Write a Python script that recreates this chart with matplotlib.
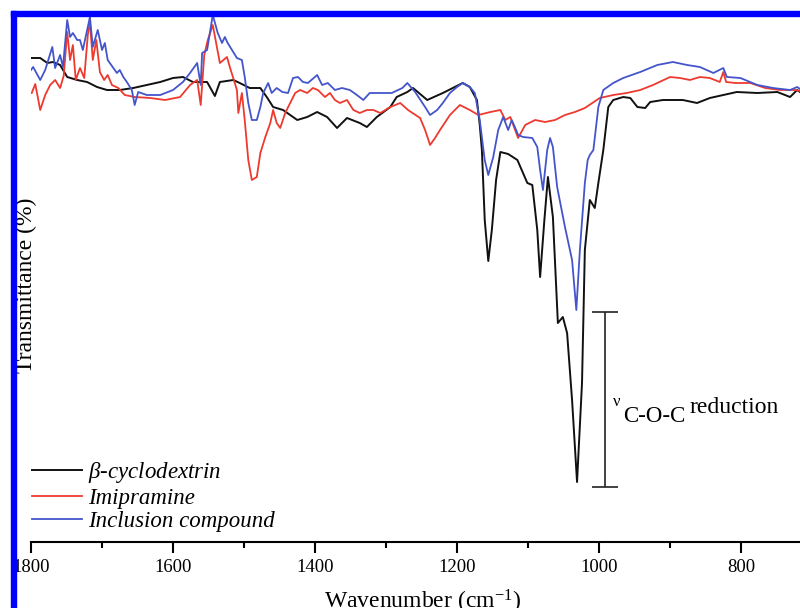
import matplotlib
matplotlib.use("Agg")
import matplotlib.pyplot as plt
from matplotlib.patches import Rectangle

# wavenumber (cm-1) and transmittance (arb. %)
cd_wn = [1800, 1787, 1777, 1769, 1759, 1749, 1735, 1721, 1707, 1693, 1675, 1656, 1637, 1618,
         1600, 1586, 1572, 1552, 1541, 1534, 1515, 1506, 1492, 1477, 1468, 1459, 1445, 1425,
         1411, 1397, 1383, 1369, 1355, 1337, 1327, 1313, 1294, 1285, 1270, 1262, 1242, 1220,
         1206, 1192, 1182, 1172, 1168, 1165, 1161, 1156, 1151, 1145, 1139, 1128, 1115, 1101,
         1094, 1087, 1083, 1077, 1072, 1065, 1058, 1051, 1045, 1038, 1031, 1024, 1020, 1013,
         1006, 1001, 994, 987, 980, 966, 956, 946, 935, 928, 910, 882, 862, 844, 825, 806,
         777, 749, 731, 721, 717]
cd_t = [96.8, 96.8, 95.8, 96.0, 95.4, 93.0, 92.4, 92.0, 91.0, 90.4, 90.4, 90.8, 91.4, 92.0,
        92.8, 93.0, 92.0, 92.0, 89.2, 92.0, 92.4, 91.8, 90.8, 90.8, 89.0, 87.0, 86.4, 84.4,
        85.0, 86.0, 85.0, 82.8, 84.8, 83.8, 83.0, 85.0, 87.0, 89.0, 90.0, 90.8, 88.4, 89.8,
        90.8, 91.8, 91.0, 88.4, 83.4, 78.4, 64.4, 56.2, 62.4, 72.4, 78.0, 77.6, 76.4, 71.8,
        71.4, 62.4, 53.0, 64.4, 73.0, 65.0, 43.8, 45.0, 41.8, 28.4, 12.0, 31.8, 58.4, 68.4,
        66.8, 71.8, 78.4, 87.0, 88.4, 89.0, 88.8, 87.0, 86.8, 88.0, 88.4, 88.4, 87.8, 88.8,
        89.4, 90.0, 89.8, 90.0, 89.0, 90.4, 90.0]

imi_wn = [1799, 1794, 1787, 1780, 1773, 1766, 1759, 1754, 1749, 1745, 1741, 1737, 1731, 1725,
          1720, 1717, 1713, 1708, 1703, 1697, 1692, 1686, 1677, 1668, 1654, 1632, 1611, 1590,
          1576, 1566, 1561, 1556, 1551, 1544, 1534, 1524, 1520, 1510, 1508, 1503, 1499, 1494,
          1489, 1482, 1477, 1470, 1463, 1459, 1454, 1449, 1442, 1435, 1428, 1421, 1411, 1403,
          1396, 1386, 1379, 1372, 1365, 1355, 1346, 1337, 1327, 1318, 1308, 1294, 1280, 1269,
          1252, 1245, 1238, 1231, 1224, 1210, 1196, 1182, 1170, 1153, 1139, 1132, 1125, 1114,
          1104, 1090, 1076, 1062, 1048, 1034, 1020, 999, 980, 961, 942, 924, 900, 886, 872,
          858, 844, 830, 825, 821, 808, 787, 766, 745, 724, 717]
imi_t = [89.8, 91.6, 86.4, 89.4, 91.4, 92.4, 90.8, 93.2, 102.0, 96.4, 99.4, 92.4, 94.8, 92.8,
         101.4, 104.0, 96.4, 100.4, 94.0, 92.4, 93.4, 91.4, 90.8, 89.4, 89.0, 88.8, 88.4, 89.0,
         91.4, 92.4, 87.4, 97.4, 100.4, 103.4, 95.8, 97.0, 95.0, 90.4, 85.8, 89.8, 84.4, 76.4,
         72.4, 73.0, 77.8, 81.0, 83.8, 86.4, 83.8, 82.8, 85.8, 87.8, 89.8, 90.4, 89.8, 90.8,
         90.4, 89.0, 89.8, 88.4, 87.8, 88.4, 86.4, 85.8, 86.4, 86.4, 85.8, 87.0, 87.8, 86.4,
         84.8, 82.4, 79.4, 80.8, 82.4, 85.4, 87.4, 86.4, 85.4, 86.0, 86.4, 84.4, 85.0, 80.8,
         83.4, 84.4, 84.0, 84.4, 85.4, 86.0, 86.8, 88.8, 89.4, 89.8, 90.4, 91.4, 93.0, 92.8, 92.4,
         93.0, 92.8, 92.0, 94.0, 92.0, 91.8, 91.8, 90.8, 90.4, 90.4, 90.2]

inc_wn = [1800, 1797, 1787, 1780, 1770, 1766, 1759, 1755, 1749, 1745, 1741, 1735, 1731, 1727,
          1717, 1713, 1706, 1700, 1696, 1692, 1685, 1679, 1675, 1670, 1665, 1658, 1654, 1649,
          1637, 1618, 1600, 1586, 1576, 1566, 1561, 1559, 1552, 1544, 1537, 1531, 1527, 1523,
          1517, 1510, 1503, 1499, 1494, 1489, 1482, 1477, 1473, 1466, 1461, 1454, 1446, 1438,
          1431, 1424, 1417, 1410, 1397, 1390, 1382, 1372, 1362, 1351, 1341, 1332, 1323, 1308,
          1292, 1277, 1270, 1259, 1245, 1238, 1228, 1220, 1210, 1200, 1192, 1182, 1175, 1168,
          1161, 1156, 1149, 1142, 1135, 1128, 1123, 1118, 1114, 1107, 1094, 1087, 1083, 1079,
          1073, 1069, 1065, 1059, 1048, 1038, 1032, 1027, 1020, 1016, 1013, 1008, 1001, 994,
          980, 966, 942, 918, 896, 876, 858, 839, 825, 820, 801, 777, 755, 731, 721, 717]
inc_t = [94.4, 95.0, 92.4, 94.4, 99.0, 94.8, 97.4, 95.0, 104.4, 101.0, 101.8, 100.4, 100.4, 98.4,
         105.0, 99.0, 102.4, 98.4, 99.8, 96.4, 95.0, 93.8, 94.4, 93.0, 92.0, 90.4, 87.4, 90.0,
         89.4, 89.4, 90.4, 92.0, 93.8, 95.8, 91.4, 97.8, 98.4, 105.4, 101.8, 99.8, 101.0, 99.8,
         98.4, 96.8, 96.4, 93.0, 87.8, 84.4, 84.4, 87.0, 89.8, 91.8, 89.8, 90.8, 90.0, 89.8,
         92.8, 93.0, 92.0, 91.8, 93.4, 91.4, 91.8, 90.4, 90.8, 90.4, 89.4, 88.4, 89.8, 89.8,
         89.8, 90.8, 91.8, 90.0, 87.0, 85.4, 86.4, 87.8, 89.8, 91.0, 91.8, 91.0, 89.8, 84.4,
         76.4, 73.4, 77.0, 82.4, 85.0, 82.4, 84.4, 82.8, 81.4, 81.0, 80.8, 79.0, 74.4, 70.4,
         78.4, 80.8, 79.0, 71.0, 63.0, 56.4, 46.4, 58.4, 71.8, 76.4, 77.4, 78.4, 87.0, 90.4,
         91.8, 92.8, 94.0, 95.4, 96.0, 95.4, 95.0, 93.8, 94.8, 93.0, 92.8, 91.4, 90.8, 90.4, 91.0, 90.6]

labels = [r"$\beta$-cyclodextrin", "Imipramine", "Inclusion compound"]
xticks = [1800, 1600, 1400, 1200, 1000, 800]

serif = "Liberation Serif"
plt.rcParams["font.family"] = serif
plt.rcParams["mathtext.fontset"] = "custom"
plt.rcParams["mathtext.rm"] = serif
plt.rcParams["mathtext.it"] = serif + ":italic"

fig = plt.figure(figsize=(8, 6.08), dpi=100)
ax = fig.add_axes([31 / 800, 66 / 608, 769 / 800, 542 / 608])

ax.plot(cd_wn, cd_t, color="#111111", lw=1.4, label=labels[0])
ax.plot(imi_wn, imi_t, color="#ee3a2e", lw=1.3, label=labels[1])
ax.plot(inc_wn, inc_t, color="#4455cc", lw=1.3, label=labels[2])

ax.set_xlim(1800, 717)
ax.set_ylim(0, 108.4)
ax.set_xticks(xticks)
ax.set_xticks([1700, 1500, 1300, 1100, 900], minor=True)
ax.set_yticks([])
for s in ["left", "top", "right"]:
    ax.spines[s].set_visible(False)
ax.spines["bottom"].set_linewidth(1.5)
ax.tick_params(axis="x", which="major", length=8, width=1.5, pad=4, labelsize=13.5)
ax.tick_params(axis="x", which="minor", length=4, width=1.5)

# nu C-O-C reduction bracket
ax.vlines(992, 11, 46, color="#222222", lw=1.2)
ax.hlines([46, 11], 973, 1010, color="#222222", lw=1.2)
ax.text(980, 27.2, "\u03bd", fontsize=12, ha="left", va="baseline")
ax.text(966, 24, "C-O-C", fontsize=16.5, ha="left", va="baseline")
ax.text(872, 25.8, "reduction", fontsize=17, ha="left", va="baseline")

ax.legend(loc="lower left", bbox_to_anchor=(32 / 800, 76 / 608), bbox_transform=fig.transFigure,
          frameon=False, borderpad=0, borderaxespad=0, handlelength=2.2, handletextpad=0.25,
          labelspacing=0.1, prop={"family": serif, "style": "italic", "size": 16.5})

fig.text(423 / 800, 20 / 608, "Wavenumber (cm$^{-1}$)", fontsize=17, ha="center", va="top")
fig.text(26 / 800, 323 / 608, "Transmittance (%)", fontsize=17, rotation=90, ha="center", va="center")

# blue frame on left and top edge
fig.add_artist(Rectangle((11 / 800, 0), 5 / 800, 597 / 608, transform=fig.transFigure,
                         color="#0000ff", zorder=20))
fig.add_artist(Rectangle((11 / 800, 592 / 608), 789 / 800, 5 / 608, transform=fig.transFigure,
                         color="#0000ff", zorder=20))

fig.savefig("out.png", dpi=100, facecolor="white")
